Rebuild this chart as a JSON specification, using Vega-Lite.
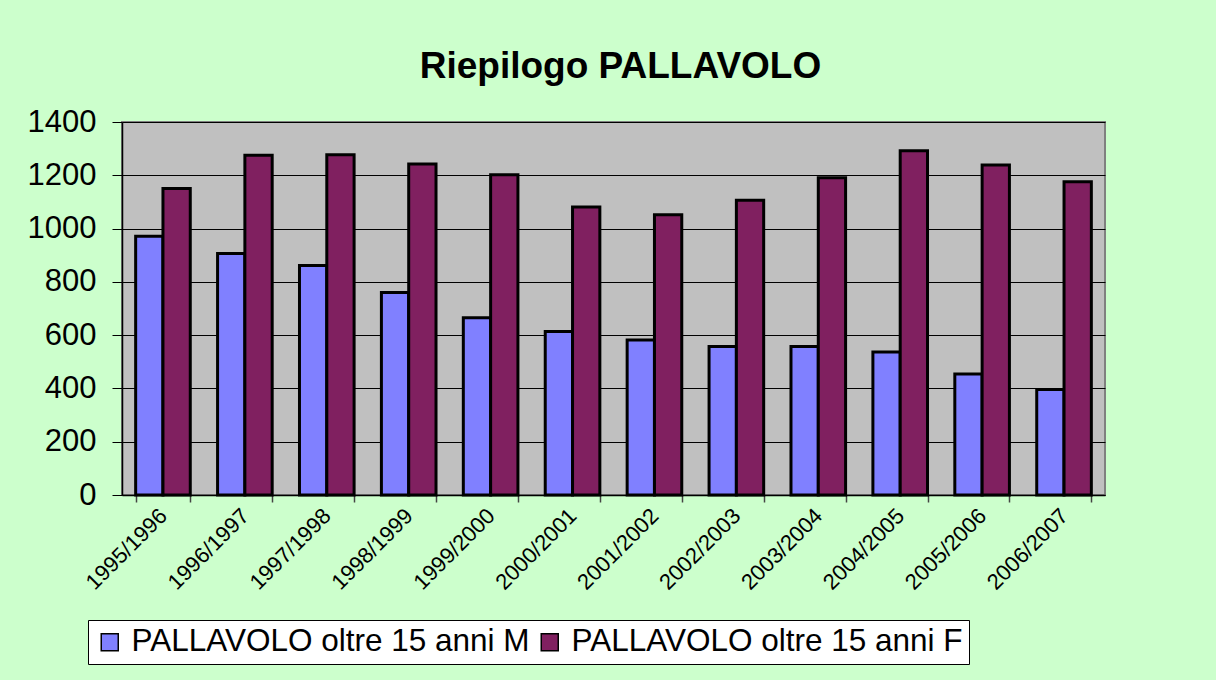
{
  "$schema": "https://vega.github.io/schema/vega-lite/v6.json",
  "width": 983,
  "height": 373,
  "autosize": {"type": "none"},
  "padding": {"left": 122, "top": 122, "right": 111, "bottom": 185},
  "background": "#CCFFCC",
  "title": {
    "text": "Riepilogo PALLAVOLO",
    "font": "Liberation Sans",
    "fontSize": 37,
    "fontWeight": "bold",
    "color": "#000000",
    "frame": "group",
    "anchor": "middle",
    "dx": 7,
    "baseline": "alphabetic",
    "offset": -9
  },
  "data": {
    "values": [
      {"season": "1995/1996", "serie": "PALLAVOLO oltre 15 anni M", "value": 971},
      {"season": "1995/1996", "serie": "PALLAVOLO oltre 15 anni F", "value": 1150},
      {"season": "1996/1997", "serie": "PALLAVOLO oltre 15 anni M", "value": 906},
      {"season": "1996/1997", "serie": "PALLAVOLO oltre 15 anni F", "value": 1275},
      {"season": "1997/1998", "serie": "PALLAVOLO oltre 15 anni M", "value": 861},
      {"season": "1997/1998", "serie": "PALLAVOLO oltre 15 anni F", "value": 1277},
      {"season": "1998/1999", "serie": "PALLAVOLO oltre 15 anni M", "value": 760},
      {"season": "1998/1999", "serie": "PALLAVOLO oltre 15 anni F", "value": 1242},
      {"season": "1999/2000", "serie": "PALLAVOLO oltre 15 anni M", "value": 665},
      {"season": "1999/2000", "serie": "PALLAVOLO oltre 15 anni F", "value": 1202},
      {"season": "2000/2001", "serie": "PALLAVOLO oltre 15 anni M", "value": 614},
      {"season": "2000/2001", "serie": "PALLAVOLO oltre 15 anni F", "value": 1081},
      {"season": "2001/2002", "serie": "PALLAVOLO oltre 15 anni M", "value": 582},
      {"season": "2001/2002", "serie": "PALLAVOLO oltre 15 anni F", "value": 1052},
      {"season": "2002/2003", "serie": "PALLAVOLO oltre 15 anni M", "value": 557},
      {"season": "2002/2003", "serie": "PALLAVOLO oltre 15 anni F", "value": 1106},
      {"season": "2003/2004", "serie": "PALLAVOLO oltre 15 anni M", "value": 557},
      {"season": "2003/2004", "serie": "PALLAVOLO oltre 15 anni F", "value": 1191},
      {"season": "2004/2005", "serie": "PALLAVOLO oltre 15 anni M", "value": 537},
      {"season": "2004/2005", "serie": "PALLAVOLO oltre 15 anni F", "value": 1292},
      {"season": "2005/2006", "serie": "PALLAVOLO oltre 15 anni M", "value": 454},
      {"season": "2005/2006", "serie": "PALLAVOLO oltre 15 anni F", "value": 1239},
      {"season": "2006/2007", "serie": "PALLAVOLO oltre 15 anni M", "value": 396},
      {"season": "2006/2007", "serie": "PALLAVOLO oltre 15 anni F", "value": 1176}
    ]
  },
  "mark": {"type": "bar", "stroke": "#000000", "strokeWidth": 3},
  "encoding": {
    "x": {
      "field": "season",
      "type": "nominal",
      "sort": null,
      "scale": {"paddingInner": 0.3333, "paddingOuter": 0.1667},
      "axis": {
        "title": null,
        "domainColor": "#000000",
        "domainWidth": 1.5,
        "tickColor": "#444444",
        "tickWidth": 1.5,
        "tickSize": 7,
        "tickBand": "extent",
        "labelAngle": -45,
        "labelAlign": "right",
        "labelBaseline": "middle",
        "labelPadding": 10,
        "labelFont": "Liberation Sans",
        "labelFontSize": 22,
        "labelColor": "#000000",
        "labelLimit": 300,
        "grid": false
      }
    },
    "xOffset": {
      "field": "serie",
      "type": "nominal",
      "sort": ["PALLAVOLO oltre 15 anni M", "PALLAVOLO oltre 15 anni F"]
    },
    "y": {
      "field": "value",
      "type": "quantitative",
      "scale": {"domain": [0, 1400], "nice": false},
      "axis": {
        "title": null,
        "values": [0, 200, 400, 600, 800, 1000, 1200, 1400],
        "format": "d",
        "domainColor": "#000000",
        "domainWidth": 1.5,
        "tickColor": "#000000",
        "tickSize": 10,
        "labelPadding": 16,
        "labelFont": "Liberation Sans",
        "labelFontSize": 31,
        "labelColor": "#000000",
        "grid": true,
        "gridColor": "#000000",
        "gridWidth": 1,
        "gridOpacity": 1
      }
    },
    "color": {
      "field": "serie",
      "type": "nominal",
      "sort": ["PALLAVOLO oltre 15 anni M", "PALLAVOLO oltre 15 anni F"],
      "scale": {
        "domain": ["PALLAVOLO oltre 15 anni M", "PALLAVOLO oltre 15 anni F"],
        "range": ["#8080FF", "#802060"]
      },
      "legend": {
        "title": null,
        "orient": "none",
        "legendX": -34,
        "legendY": 498,
        "direction": "horizontal",
        "fillColor": "#FFFFFF",
        "strokeColor": "#000000",
        "padding": 6,
        "symbolType": "square",
        "symbolSize": 289,
        "symbolStrokeColor": "#000000",
        "symbolStrokeWidth": 1.5,
        "symbolOpacity": 1,
        "labelFont": "Liberation Sans",
        "labelFontSize": 31.5,
        "labelColor": "#000000",
        "labelOffset": 6,
        "labelLimit": 600,
        "columnPadding": 4
      }
    }
  },
  "config": {
    "view": {"fill": "#C0C0C0", "stroke": "#808080", "strokeWidth": 2}
  }
}
